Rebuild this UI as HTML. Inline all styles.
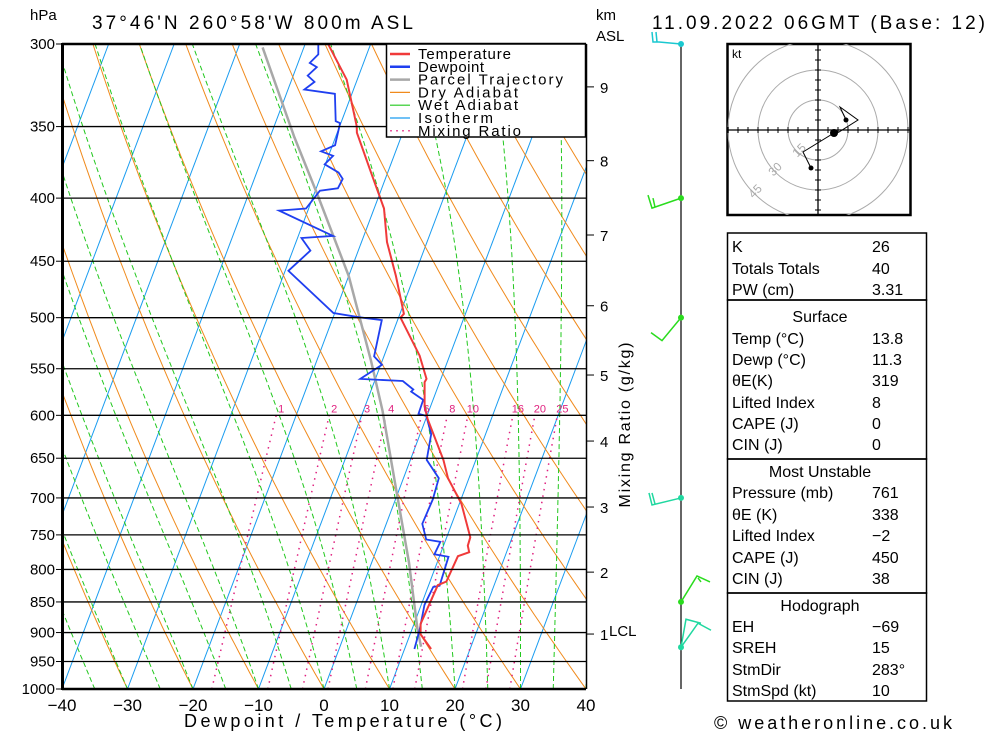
<!DOCTYPE html>
<html><head><meta charset="utf-8"><style>
html,body{margin:0;padding:0;background:#fff;}
svg{display:block;font-family:"Liberation Sans",sans-serif;}
</style></head><body>
<svg id="chart" width="1000" height="733" viewBox="0 0 1000 733" xmlns="http://www.w3.org/2000/svg">
<defs><clipPath id="plotclip"><rect x="62" y="44" width="524" height="645"/></clipPath>
<clipPath id="hodoclip"><rect x="727" y="44" width="184" height="171"/></clipPath></defs>
<g id="bg" clip-path="url(#plotclip)"></g>
<g id="profiles" clip-path="url(#plotclip)"></g>
<g id="axes"></g>
<text x="30" y="20" font-size="15">hPa</text>
<text x="92" y="29" font-size="19" textLength="321">37°46'N 260°58'W 800m ASL</text>
<text x="596" y="20" font-size="15">km</text>
<text x="596" y="41" font-size="15">ASL</text>
<text x="652" y="29" font-size="19" textLength="333">11.09.2022 06GMT (Base: 12)</text>
<text x="343" y="727" font-size="18" text-anchor="middle" textLength="318">Dewpoint / Temperature (°C)</text>
<text x="630" y="425" font-size="16" text-anchor="middle" transform="rotate(-90 630 425)" textLength="165">Mixing Ratio (g/kg)</text>
<text x="714" y="729" font-size="18" textLength="238">© weatheronline.co.uk</text>
<g id="legend">
<rect x="386.5" y="44" width="199" height="93" fill="#fff" stroke="#000" stroke-width="1.5"/>
</g>
<g id="winds"></g>
<g id="hodo"></g>
<g id="tables"></g>
</svg>
<script>
// ===== data =====
const tempP = [300,320.7,349.7,354,382.9,407.8,434.2,462.5,496.4,500,536.7,560.6,564,590.2,604.3,652.1,674.7,707.4,753.4,765.3,774.7,780.4,818.2,823.9,885.4,902.9,928.1];
const tempT = [-36.5,-31.6,-27.4,-27.0,-22.3,-18.5,-16.1,-12.8,-9.4,-9.7,-4.6,-2.2,-2.3,-0.9,0.3,5.05,6.8,10.3,13.6,13.7,14.3,12.8,12.5,11.4,11.0,11.6,14.05];
const dewP = [300,305.9,310.8,313.2,318.2,322,326.6,329.2,346.5,347.8,362.4,366.5,369.6,375.5,381.4,385.9,392.7,394.5,407.8,409.4,429.2,430.9,441.2,458.1,495.7,499.6,502.3,537.5,546,560.6,562.8,571.7,574,583,598.4,600.6,621.4,652.1,674.7,701.9,734.7,756.5,759.7,777.7,781.3,824.7,826.7,854.5,895.7,928];
const dewT = [-38.0,-37.4,-38.2,-36.9,-37.8,-36.4,-37.5,-32.6,-30.9,-30.1,-29.6,-31.4,-29.3,-30.1,-27.5,-26.5,-26.7,-29.3,-30.4,-34.4,-24.7,-29.4,-27.3,-29.5,-20.2,-16.1,-12.4,-11.5,-9.8,-12.3,-5.7,-3.6,-3.8,-1.5,-1.4,-0.1,1.7,2.5,5.4,5.7,5.5,7.0,9.3,9.1,11.4,11.7,10.8,10.5,11.2,11.5];
const parcelP = [301.9,356.9,398.4,462.5,541,594.7,685.6,789.9,895.7,924.3];
const parcelT = [-46.3,-36.3,-29.3,-20.0,-11.8,-7.1,-0.7,5.7,10.9,12.4];
const isobars = [300,350,400,450,500,550,600,650,700,750,800,850,900,950,1000];
const xTicks = [-40,-30,-20,-10,0,10,20,30,40];
const mixRatios = [1,2,3,4,6,8,10,16,20,25];
const kmLabels = [9,8,7,6,5,4,3,2,1];
const kmPressures = [325,373,428.5,489,556.5,629.5,712,804,902.5];
const windP = [300,400,500,700,850,925];

// ===== axis functions =====
const NS='http://www.w3.org/2000/svg';
const L = Math.log(1000/300);
function yOf(p){return 44+645*Math.log(p/300)/L;}
function xOf(T,p){return 62+(T+40)*6.55+0.377*(689-yOf(p));}
function el(tag,attrs,parent){const e=document.createElementNS(NS,tag);for(const k in attrs)e.setAttribute(k,attrs[k]);parent.appendChild(e);return e;}
function ptsStr(Ts,Ps){return Ts.map((t,i)=>xOf(t,Ps[i]).toFixed(1)+','+yOf(Ps[i]).toFixed(1)).join(' ');}
const bg=document.getElementById('bg'), prof=document.getElementById('profiles'), axes=document.getElementById('axes');

// isotherms
for(let T=-160;T<=40;T+=10){
  const l=el('line',{x1:xOf(T,1000),y1:yOf(1000),x2:xOf(T,300),y2:yOf(300),stroke:'#1a9cf0','stroke-width':1},bg);
  
  
}
// dry adiabats
for(let th=-40;th<=170;th+=10){
  const Ts=[],Ps=[];
  for(let p=1000;p>=300;p-=10){Ps.push(p);Ts.push((th+273.15)*Math.pow(p/1000,0.2857)-273.15);}
  const l=el('polyline',{points:ptsStr(Ts,Ps),fill:'none',stroke:'#f08a1c','stroke-width':1},bg);
  
  
}
// wet adiabats
function es(T){return 6.112*Math.exp(17.67*T/(T+243.5));}
for(let tw=-40;tw<=40;tw+=5){
  const Ts=[],Ps=[];let T=tw+273.15;
  for(let p=1000;p>=300;p-=5){
    Ps.push(p);Ts.push(T-273.15);
    const e=es(T-273.15),rs=0.622*e/(p-e);
    const dTdp=(287*T+2.5e6*rs)/(p*(1004+2.5e6*2.5e6*rs*0.622/(287*T*T)));
    T-=dTdp*5;
  }
  const l=el('polyline',{points:ptsStr(Ts,Ps),fill:'none',stroke:'#22c81e','stroke-width':1,'stroke-dasharray':'5,3'},bg);
  
  
}
// mixing ratio
mixRatios.forEach(w=>{
  const Ts=[],Ps=[];
  for(let p=1000;p>=600;p-=20){const e=w*p/(622+w);const a=Math.log(e/6.112);Ps.push(p);Ts.push(243.5*a/(17.67-a));}
  const l=el('polyline',{points:ptsStr(Ts,Ps),fill:'none',stroke:'#e0207f','stroke-width':1.5,'stroke-dasharray':'1.5,5'},bg);
  
  
  const t=el('text',{x:xOf(Ts[Ts.length-1],600)+5,y:yOf(600)-3,'font-size':11,fill:'#e0207f','text-anchor':'middle'},axes);
  t.textContent=w;
  
  
});
// isobars
isobars.forEach(p=>{
  const y=yOf(p);
  const l=el('line',{x1:62,y1:y,x2:586,y2:y,stroke:'#000','stroke-width':(p===300||p===1000)?2.5:1.3},axes);
  
  
  const tk=el('line',{x1:56,y1:y,x2:62,y2:y,stroke:'#000','stroke-width':1},axes);
  
  
  const t=el('text',{x:55,y:y+5,'font-size':15,'text-anchor':'end'},axes);
  t.textContent=p;
  
  
});
// frame
const lf=el('line',{x1:62.5,y1:43,x2:62.5,y2:690,stroke:'#000','stroke-width':3},axes);


const rf=el('line',{x1:586.5,y1:44,x2:586.5,y2:689,stroke:'#000','stroke-width':1.5},axes);


xTicks.forEach(T=>{
  const t=el('text',{x:62+(T+40)*6.55,y:711,'font-size':17,'text-anchor':'middle'},axes);
  t.textContent=(T<0?'\u2212'+(-T):T);
  
  
});
kmLabels.forEach((k,i)=>{
  const y=yOf(kmPressures[i]);
  const tk=el('line',{x1:586,y1:y,x2:594,y2:y,stroke:'#000','stroke-width':1},axes);
  
  
  const t=el('text',{x:600,y:y+6,'font-size':15},axes);
  t.textContent=k;
  
  
});
const lcl=el('text',{x:609,y:636,'font-size':15},axes);
lcl.textContent='LCL';



// profiles
const pl=el('polyline',{points:ptsStr(parcelT,parcelP),fill:'none',stroke:'#a8a8a8','stroke-width':2.5},prof);


const dl=el('polyline',{points:ptsStr(dewT,dewP),fill:'none',stroke:'#1f3ff0','stroke-width':1.8},prof);


const tl=el('polyline',{points:ptsStr(tempT,tempP),fill:'none',stroke:'#f03a3a','stroke-width':2},prof);



// legend
const leg=document.getElementById('legend');
const legItems=[['Temperature','#f03a3a',''],['Dewpoint','#1f3ff0',''],['Parcel Trajectory','#a8a8a8',''],['Dry Adiabat','#f08a1c',''],['Wet Adiabat','#22c81e',''],['Isotherm','#1a9cf0',''],['Mixing Ratio','#e0207f','2,4']];
const legW=[93,66,145,100,100,75,103];
legItems.forEach((it,i)=>{
  const y=54+i*12.8;
  const l=el('line',{x1:390,y1:y,x2:410,y2:y,stroke:it[1],'stroke-width':i<3?2.5:1.2},leg);
  if(it[2])l.setAttribute('stroke-dasharray',it[2]);
  
  
  const t=el('text',{x:418,y:y+5,'font-size':15,textLength:legW[i]},leg);
  t.textContent=it[0];
  
  
});

// wind barbs
const wg=document.getElementById('winds');
const wl=el('line',{x1:681,y1:44,x2:681,y2:689,stroke:'#000','stroke-width':1.2},wg);


const barbShapes=[
 ['#1ac8d0','0,0 -22,-2 -28,-2 -29,-12 M -24,-2 -25,-12'],
 ['#2adc1e','0,0 -29,10 -33,-3 M -26,9 -28,0'],
 ['#2adc1e','0,0 -19,23 -30,15'],
 ['#20d8a0','0,0 -29,7 -32,-5 M -26,6 -29,-5'],
 ['#2adc1e','0,0 16,-26 29,-20 M 17,-24 20,-20'],
 ['#20d8a0','0,0 5,-28 20,-24 M 0,0 17,-24 30,-17']
];
windP.forEach((p,i)=>{
  const y=yOf(p);
  const segs=barbShapes[i][1].split(' M ');
  segs.forEach(s=>{
    const pts=s.split(' ').map(q=>{const [a,b]=q.split(',').map(Number);return (681+a)+','+(y+b);}).join(' ');
    const b=el('polyline',{points:pts,fill:'none',stroke:barbShapes[i][0],'stroke-width':1.5},wg);
    
    
  });
  const d=el('circle',{cx:681,cy:y,r:3,fill:barbShapes[i][0]},wg);
  
  
});

// hodograph
const hg=document.getElementById('hodo');
const cx=818,cy=130;
const hb=el('rect',{x:727.5,y:44,width:183,height:171,fill:'#fff',stroke:'#000','stroke-width':2.5},hg);


const hc=el('g',{'clip-path':'url(#hodoclip)'},hg);
[30,60,90].forEach(r=>{
  const c=el('circle',{cx:cx,cy:cy,r:r,fill:'none',stroke:'#aaa','stroke-width':1},hc);
  
  
});
el('line',{x1:727,y1:cy,x2:911,y2:cy,stroke:'#000','stroke-width':1.3},hc);
el('line',{x1:cx,y1:44,x2:cx,y2:215,stroke:'#000','stroke-width':1.3},hc);
for(let d=-90;d<=90;d+=10){if(d===0)continue;
  el('line',{x1:cx+d,y1:cy-3,x2:cx+d,y2:cy+3,stroke:'#000'},hc);
  el('line',{x1:cx-3,y1:cy+d,x2:cx+3,y2:cy+d,stroke:'#000'},hc);}
[['15',cx-16,cy+23],['30',cx-40,cy+42],['45',cx-60,cy+64]].forEach(a=>{
  const t=el('text',{x:a[1],y:a[2],'font-size':12,fill:'#aaa','text-anchor':'middle',transform:'rotate(-45 '+a[1]+' '+a[2]+')'},hc);
  t.textContent=a[0];
  
  
});
const hkt=el('text',{x:732,y:58,'font-size':12},hg);
hkt.textContent='kt';


const hp=el('polyline',{points:'811,168 803,152 834,133 839,132 858,120 840,107 846,120',fill:'none',stroke:'#000','stroke-width':1},hg);


[[811,168,2.5],[834,133,4],[846,120,2.5]].forEach(c=>{
  const d=el('circle',{cx:c[0],cy:c[1],r:c[2],fill:'#000'},hg);
  
  
});

// tables
const tg=document.getElementById('tables');
[[233,300],[300,459],[459,593],[593,701]].forEach(b=>{
  const r=el('rect',{x:727.5,y:b[0],width:199,height:b[1]-b[0],fill:'none',stroke:'#000','stroke-width':1.5},tg);
  
  
});
const rows=[
 ['K','26',246],['Totals Totals','40',268],['PW (cm)','3.31',289],
 ['#Surface','',316],['Temp (°C)','13.8',338],['Dewp (°C)','11.3',359],['θE(K)','319',380],['Lifted Index','8',402],['CAPE (J)','0',423],['CIN (J)','0',444],
 ['#Most Unstable','',471],['Pressure (mb)','761',492],['θE (K)','338',514],['Lifted Index','\u22122',535],['CAPE (J)','450',557],['CIN (J)','38',578],
 ['#Hodograph','',605],['EH','\u221269',626],['SREH','15',647],['StmDir','283°',669],['StmSpd (kt)','10',690]
];
rows.forEach(r=>{
  if(r[0][0]==='#'){
    const t=el('text',{x:820,y:r[2]+6,'font-size':16,'text-anchor':'middle'},tg);
    t.textContent=r[0].slice(1);
    
    
    return;
  }
  const t=el('text',{x:732,y:r[2]+6,'font-size':16},tg);
  t.textContent=r[0];
  
  
  const v=el('text',{x:872,y:r[2]+6,'font-size':16},tg);
  v.textContent=r[1];
  
  
});
</script>
</body></html>
